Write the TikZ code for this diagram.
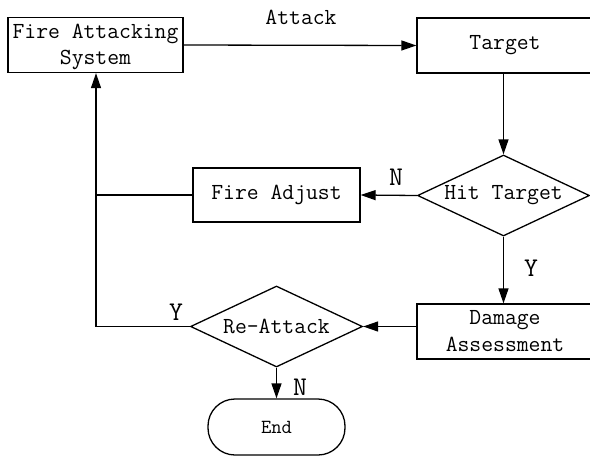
\documentclass[tikz,border=0pt]{standalone}
\usetikzlibrary{shapes.geometric,arrows.meta}
\begin{document}
\begin{tikzpicture}[x=1pt,y=-1pt,
  every node/.style={font=\fontsize{23}{25}\selectfont\ttfamily, inner sep=0pt},
  box/.style={draw, line width=1.3pt, minimum height=55pt, align=center},
  dec/.style={draw, diamond, line width=1.3pt, minimum width=172pt, minimum height=81pt, aspect=2.14},
  term/.style={draw, line width=1.3pt, rounded corners=27pt, minimum width=137pt, minimum height=56pt, font=\fontsize{20}{22}\selectfont\ttfamily},
  conn/.style={line width=1.3pt, -{Triangle[length=15pt,width=10pt]}},
  plain/.style={line width=1.3pt},
  lbl/.style={font=\fontsize{27}{28}\selectfont\ttfamily}]
\useasboundingbox (0,0) rectangle (590,456);
\node[box, minimum width=175pt] (fas) at (95.5,45) {};
\node (fast) at (95.5,47) [align=center] {Fire Attacking\\[1pt]System};
\node[box, minimum width=176pt] (tgt) at (505,45.5) {Target};
\node[dec] (hit) at (503.5,195.5) {Hit Target};
\node[box, minimum width=167pt, minimum height=54pt] (adj) at (276.5,195) {Fire Adjust};
\node[box, minimum width=176pt] (dam) at (505,331.5) {Damage\\[2pt]Assessment};
\node[dec] (re) at (276.5,326.5) {Re-Attack};
\node[term] (end) at (276.5,427) {End};
\coordinate (c1) at (96,195);
\coordinate (c2) at (96,326.5);
\node (la) at (301,17) {Attack};
\node[lbl] (ln1) at (396,177) {N};
\node[lbl] (ly1) at (531,268) {Y};
\node[lbl] (ly2) at (176,312) {Y};
\node[lbl] (ln2) at (300,387) {N};
\draw[conn] (fas.east) -- (tgt.west);
\draw[conn] (tgt.south -| hit.north) -- (hit.north);
\draw[conn] (hit.west) -- (adj.east);
\draw[conn] (hit.south) -- (hit.south |- dam.north);
\draw[conn] (dam.west |- re.east) -- (re.east);
\draw[conn] (re.south) -- (end.north);
\draw[plain] (adj.west) -- (c1);
\draw[conn] (re.west) -- (c2) -- (fas.south -| c2);
\end{tikzpicture}
\end{document}
